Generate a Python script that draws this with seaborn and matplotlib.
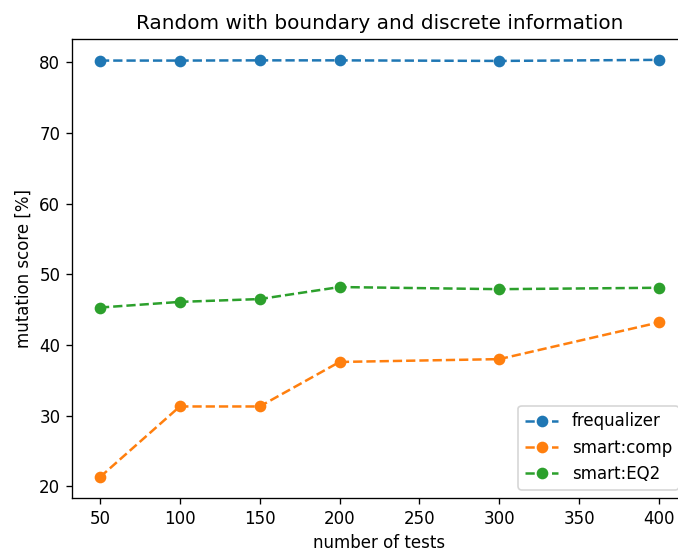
import matplotlib
matplotlib.use("Agg")
import matplotlib.pyplot as plt
import seaborn as sns
import pandas as pd

tests = [50, 100, 150, 200, 300, 400]
frequalizer = [80.25, 80.25, 80.28, 80.28, 80.2, 80.35]
smart_comp = [21.3, 31.3, 31.3, 37.6, 38.0, 43.2]
smart_eq2 = [45.3, 46.1, 46.5, 48.2, 47.9, 48.1]
series_names = ["frequalizer", "smart:comp", "smart:EQ2"]
colors = ["#1f77b4", "#ff7f0e", "#2ca02c"]

plt.rcParams["font.family"] = ["DejaVu Sans"]

DPI = 120
W, H = 678, 554
fig = plt.figure(figsize=(W / DPI, H / DPI), dpi=DPI)
ax = fig.add_axes([72 / W, (H - 498) / H, (687 - 72) / W, (498 - 39) / H])

for name, vals, c in zip(series_names, [frequalizer, smart_comp, smart_eq2], colors):
    df = pd.DataFrame({"tests": tests, "score": vals})
    sns.lineplot(data=df, x="tests", y="score", ax=ax, color=c, marker="o",
                 linestyle="--", markersize=6, markeredgewidth=1,
                 markeredgecolor=c, linewidth=1.5, label=name)

ax.set_title("Random with boundary and discrete information", fontsize=12)
ax.set_xlabel("number of tests", fontsize=10)
ax.set_ylabel("mutation score [%]", fontsize=10)
ax.set_xticks([50, 100, 150, 200, 250, 300, 350, 400])
ax.set_yticks([20, 30, 40, 50, 60, 70, 80])
ax.tick_params(labelsize=10)
ax.legend(loc="lower right", fontsize=10)
fig.savefig("out.png", dpi=DPI)
